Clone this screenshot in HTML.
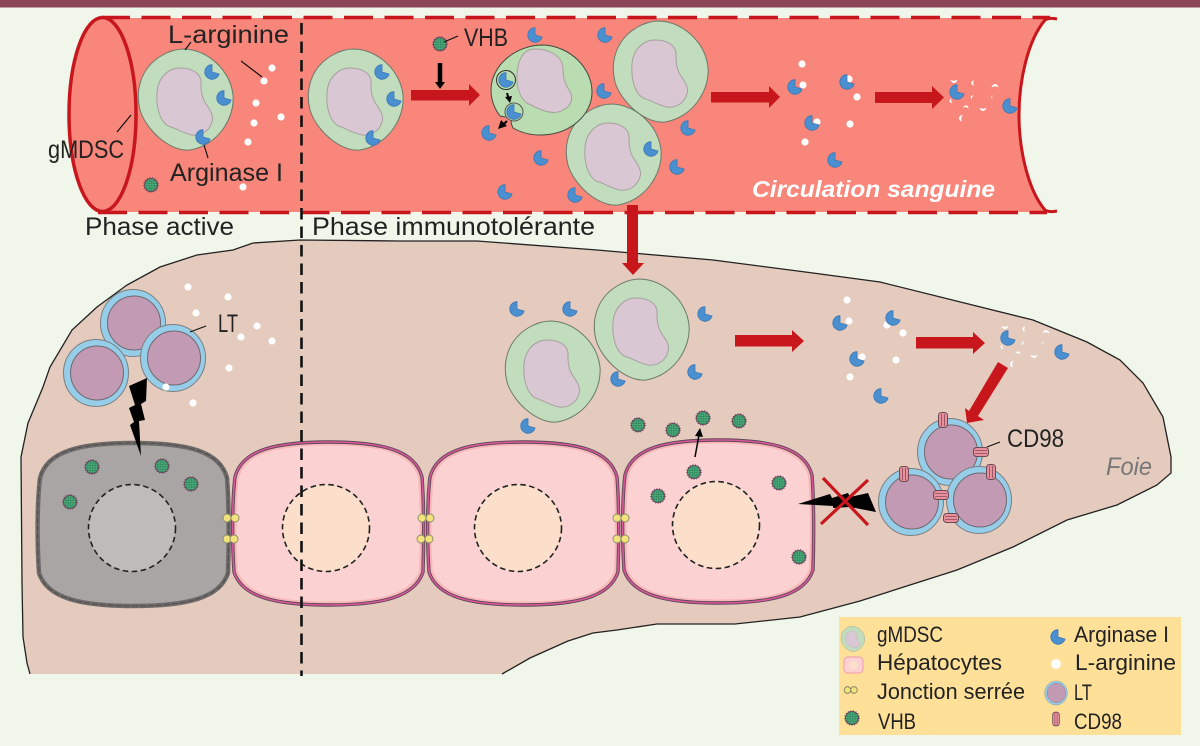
<!DOCTYPE html>
<html><head><meta charset="utf-8"><style>
html,body{margin:0;padding:0;background:#f0f6e9}
svg{display:block}
text{font-family:"Liberation Sans",sans-serif;fill:#222}
</style></head><body>
<svg width="1200" height="746" viewBox="0 0 1200 746" xmlns="http://www.w3.org/2000/svg">
<defs>
<pattern id="sp" width="2.4" height="2.4" patternUnits="userSpaceOnUse"><rect width="2.4" height="2.4" fill="#3f9f6f"/><circle cx=".7" cy=".8" r=".5" fill="#1f6a48"/><circle cx="1.9" cy="1.9" r=".35" fill="#7fc79c"/></pattern>
<g id="v"><circle r="7" fill="#5e4a58" stroke="#6a4a60" stroke-width="1.6" stroke-dasharray="1 1.6"/><circle r="6" fill="url(#sp)"/></g>
<g id="p"><path d="M0,0 L0,-7.3 A7.3,7.3 0 1 0 7.1,2 Z" fill="#4a8fd0" stroke="#3b78b4" stroke-width=".8"/></g>
<g id="c"><path d="M-2,-51 C22,-50 44,-30 47,-5 C49,20 30,46 4,50 C-16,52 -40,30 -46,10 C-51,-10 -45,-32 -25,-44 C-17,-49 -9,-51 -2,-51Z" fill="#c2dcbe" stroke="#6b7a6b" stroke-width="1"/><path d="M-6,-32 C4,-32 16,-28 15,-16 C15,-8 16,-2 20,4 C24,10 28,15 26,22 C23,32 14,36 6,35 C-4,33 -10,28 -18,26 C-27,20 -30,6 -29,-8 C-28,-22 -18,-32 -6,-32Z" fill="#d9c8d4" stroke="#a6a09e" stroke-width="1"/></g>
<path id="hs" d="M96.5,0 C150,0 183,8 190,35 C192,60 192,100 191,130 C183,155 150,163 96.5,163 C43,163 10,155 2,130 C0,100 0,60 3,35 C10,8 43,0 96.5,0Z"/>
<g id="h"><use href="#hs" fill="#fbd1d2"/><use href="#hs" fill="none" stroke="#f8a9ae" stroke-width="3" stroke-opacity=".65" transform="translate(2.4 2) scale(.975)"/><use href="#hs" fill="none" stroke="#5b4a55" stroke-width="3.4"/><use href="#hs" fill="none" stroke="#d9569a" stroke-width="1.6"/></g>
<g id="t"><ellipse rx="32.5" ry="33.5" fill="#96cde8" stroke="#7a7f80" stroke-width="1"/><ellipse cx="1" cy="0" rx="26.5" ry="27" fill="#c39ab3" stroke="#6f6a70" stroke-width="1"/></g>
<g id="m"><rect x="-4.5" y="-7.5" width="9" height="15" rx="3" fill="#e8909c" stroke="#6a4a55" stroke-width="1"/><path d="M-1.5,-6V6M1.5,-6V6" stroke="#8a4a5a" stroke-width=".8"/></g>
<g id="d"><circle r="3.6" fill="#fff"/></g>
<path id="f" d="M-3.5,-1.5 Q0,1 3.5,-1.5 Q2.5,2 0,2 Q-2.500,2 -3.5,-1.5Z" fill="#fff"/>
<g id="j"><circle r="4" fill="#f3e37c" stroke="#8b8a6a" stroke-width=".9"/></g>
</defs>

<rect width="1200" height="746" fill="#f0f6e9"/>
<rect width="1200" height="7.5" fill="#8b4557"/>

<!-- vessel -->
<path d="M103,18 H1046 C1028,40 1018,80 1018,115 C1018,150 1028,190 1046,212 H103 Z" fill="#f8867a"/>
<path d="M101,17.5 H1050" stroke="#c8161d" stroke-width="3.4" stroke-dasharray="29 11.5" fill="none"/>
<path d="M98,212.5 H1047" stroke="#c8161d" stroke-width="3.4" stroke-dasharray="29 11.5" fill="none"/>
<ellipse cx="102.5" cy="114.5" rx="33.5" ry="97" fill="#f8867a" stroke="#c8161d" stroke-width="3.5"/>
<path d="M1057,19 C1052,18 1048,18 1045,20 C1028,40 1019,80 1019,115 C1019,150 1028,190 1045,210 C1048,212 1052,212 1057,211" fill="none" stroke="#c8161d" stroke-width="3"/>

<!-- liver -->
<path d="M233,250 L197,255 L160,267 L127,285 L97,307 L72,330 L50,367 L43,387 L28,423 L21,457 L22,583 L23,637 L27,663 L30,674 H502 L530,658 L568,641 L593,633 L617,630 L657,624 H735 L800,617 L860,601 L957,570 L1013,547 L1067,520 L1117,505 L1157,485 L1171,473 L1171,457 L1163,417 L1143,383 L1120,360 L1087,342 L1033,320 L880,282 L813,273 L713,260 L597,250 L477,241 L400,241 L300,240 L253,243 Z" fill="#e5cbbd"/>
<path d="M30,674 L27,663 L23,637 L22,583 L21,457 L28,423 L43,387 L50,367 L72,330 L97,307 L127,285 L160,267 L197,255 L233,250 L253,243 L300,240 L400,241 L477,241 L597,250 L713,260 L813,273 L880,282 L1033,320 L1087,342 L1120,360 L1143,383 L1163,417 L1171,457 L1171,473 L1157,485 L1117,505 L1067,520 L1013,547 L957,570 L860,601 L800,617 L735,624 H657 L617,630 L593,633 L568,641 L530,658 L502,674" fill="none" stroke="#222" stroke-width="1.3"/>

<!-- hepatocytes -->
<g transform="translate(37 443)"><use href="#hs" fill="#a9a5a4"/><use href="#hs" fill="none" stroke="#6e6a6a" stroke-width="4.5"/><use href="#hs" fill="none" stroke="#4f4c4c" stroke-width="1" stroke-dasharray="6 2"/></g>
<use href="#h" x="232" y="442"/>
<use href="#h" x="427" y="442"/>
<use href="#h" x="622" y="440"/>
<g stroke="#222" stroke-width="1.6" stroke-dasharray="5.5 3.5">
<circle cx="132" cy="528" r="43.5" fill="#bfbbba"/>
<circle cx="326" cy="528" r="43.5" fill="#fbdfcb"/>
<circle cx="518" cy="528" r="43.5" fill="#fbdfcb"/>
<circle cx="716" cy="525" r="43.5" fill="#fbdfcb"/>
</g>
<use href="#j" x="227" y="518"/><use href="#j" x="235" y="518"/><use href="#j" x="227" y="539"/><use href="#j" x="234" y="539"/>
<use href="#j" x="422" y="518"/><use href="#j" x="430" y="518"/><use href="#j" x="421" y="539"/><use href="#j" x="429" y="539"/>
<use href="#j" x="617" y="518"/><use href="#j" x="625" y="518"/><use href="#j" x="617" y="539"/><use href="#j" x="625" y="539"/>

<!-- vertical dash -->
<path d="M301.5,23 V676" stroke="#111" stroke-width="2.6" stroke-dasharray="11.5 7" fill="none"/>

<!-- gMDSC -->
<use href="#c" x="186" y="100"/><use href="#c" x="356" y="100"/><use href="#c" x="661" y="72"/><use href="#c" x="614" y="155"/>
<use href="#c" x="553" y="372"/><use href="#c" x="642" y="330"/>

<!-- infected cell -->
<path d="M543,45 C570,46 592,68 592,92 C592,115 570,135 540,135 C530,135 520,132 513,128 L511,123 C513,117 508,114 505,117 L500,116 C494,108 491,100 491,90 C491,66 515,45 543,45Z" fill="#b9dcb0" stroke="#3f4a3f" stroke-width="1"/>
<path d="M535,49 C548,49 562,55 563,68 C563,78 565,84 569,90 C574,97 572,106 563,110 C553,116 540,110 527,103 C520,98 517,88 517,77 C517,62 522,49 535,49Z" fill="#d9c8d4" stroke="#a6a09e" stroke-width="1"/>
<circle cx="506" cy="80" r="9.5" fill="#b9dcb0" stroke="#333" stroke-width="1"/>
<circle cx="514" cy="112" r="9" fill="#b9dcb0" stroke="#555" stroke-width="1"/>
<use href="#p" x="506" y="80"/><use href="#p" x="514" y="112"/>

<!-- dots -->
<g>
<use href="#d" x="272" y="68"/><use href="#d" x="264" y="81"/><use href="#d" x="256" y="103"/><use href="#d" x="281" y="117"/><use href="#d" x="254" y="123"/><use href="#d" x="248" y="142"/><use href="#d" x="243" y="187"/>
<use href="#d" x="802" y="64"/><use href="#d" x="803" y="85"/><use href="#d" x="857" y="97"/><use href="#d" x="850" y="124"/><use href="#d" x="805" y="142"/><use href="#d" x="817" y="122"/><use href="#d" x="849" y="79"/>
<use href="#d" x="188" y="287"/><use href="#d" x="228" y="297"/><use href="#d" x="196" y="313"/><use href="#d" x="257" y="326"/><use href="#d" x="241" y="337"/><use href="#d" x="272" y="341"/><use href="#d" x="229" y="368"/><use href="#d" x="193" y="403"/>
<use href="#d" x="847" y="300"/><use href="#d" x="849" y="321"/><use href="#d" x="887" y="325"/><use href="#d" x="903" y="333"/><use href="#d" x="896" y="360"/><use href="#d" x="862" y="357"/><use href="#d" x="850" y="377"/>
</g>
<g id="frags">
<use href="#f" x="954" y="81"/><use href="#f" transform="translate(973 83) rotate(90) scale(.8)"/><use href="#f" transform="translate(995 86) rotate(180)"/><use href="#f" transform="translate(972 97) rotate(120) scale(.6)"/><use href="#f" transform="translate(992 97) rotate(90) scale(.6)" opacity=".5"/><use href="#f" transform="translate(951 101) rotate(80) scale(.7)"/><use href="#f" transform="translate(966 107) rotate(190) scale(.8)"/><use href="#f" x="983" y="109"/><use href="#f" transform="translate(961 118) rotate(100)"/>
<use href="#f" x="1005" y="327"/><use href="#f" transform="translate(1024 329) rotate(90) scale(.8)"/><use href="#f" transform="translate(1046 332) rotate(180)"/><use href="#f" transform="translate(1023 343) rotate(120) scale(.6)"/><use href="#f" transform="translate(1043 343) rotate(90) scale(.6)" opacity=".6"/><use href="#f" transform="translate(1002 347) rotate(80) scale(.7)"/><use href="#f" transform="translate(1018 353) rotate(190) scale(.8)"/><use href="#f" x="1034" y="356"/><use href="#f" transform="translate(1012 364) rotate(100)"/>
</g>
<g>
<use href="#p" x="212" y="72"/><use href="#p" x="224" y="98"/><use href="#p" x="203" y="137"/>
<use href="#p" x="382" y="72"/><use href="#p" x="394" y="99"/><use href="#p" x="373" y="138"/>
<use href="#p" x="535" y="35"/><use href="#p" x="605" y="35"/><use href="#p" x="604" y="91"/><use href="#p" x="651" y="149"/><use href="#p" x="688" y="128"/><use href="#p" x="677" y="167"/><use href="#p" x="541" y="158"/><use href="#p" x="505" y="192"/><use href="#p" x="575" y="195"/><use href="#p" x="489" y="133"/>
<use href="#p" x="795" y="87"/><use href="#p" x="847" y="82"/><use href="#p" x="812" y="123"/><use href="#p" x="835" y="160"/><use href="#p" x="957" y="92"/><use href="#p" x="1010" y="106"/>
<use href="#p" x="517" y="309"/><use href="#p" x="570" y="309"/><use href="#p" x="705" y="314"/><use href="#p" x="618" y="379"/><use href="#p" x="695" y="372"/><use href="#p" x="528" y="426"/>
<use href="#p" x="840" y="323"/><use href="#p" x="893" y="318"/><use href="#p" x="857" y="359"/><use href="#p" x="881" y="396"/><use href="#p" x="1008" y="338"/><use href="#p" x="1062" y="352"/>
</g>

<!-- virus -->
<use href="#v" x="151" y="185"/><use href="#v" x="440" y="44"/>
<use href="#v" x="92" y="467"/><use href="#v" x="162" y="466"/><use href="#v" x="191" y="484"/><use href="#v" x="70" y="502"/>
<use href="#v" x="638" y="425"/><use href="#v" x="673" y="430"/><use href="#v" x="703" y="418"/><use href="#v" x="739" y="421"/><use href="#v" x="694" y="472"/><use href="#v" x="658" y="496"/><use href="#v" x="779" y="483"/><use href="#v" x="799" y="557"/>

<!-- LT -->
<use href="#t" x="133" y="323"/><use href="#t" x="96" y="373"/><use href="#t" x="173" y="358"/>
<use href="#d" x="166" y="387"/>
<use href="#t" x="950" y="452"/><use href="#t" x="911" y="502"/><use href="#t" x="979" y="500"/>
<use href="#m" x="943" y="420"/><use href="#m" x="904" y="474"/><use href="#m" x="991" y="472"/>
<use href="#m" transform="translate(981 452) rotate(90)"/><use href="#m" transform="translate(941 495) rotate(90)"/><use href="#m" transform="translate(951 518) rotate(90)"/>

<!-- red arrows -->
<g fill="#c8161d">
<path d="M411,90 H469 V84 L480,95 L469,106 V100.5 H411Z"/>
<path d="M711,92 H769 V86 L780,97 L769,108 V102.5 H711Z"/>
<path d="M875,92 H932 V86 L944,97.5 L932,109 V103 H875Z"/>
<path d="M627,205 H638 V263 H644 L633,275 L622,263 H627Z"/>
<path d="M735,335 H792 V330 L804,341 L792,352 V346.500 H735Z"/>
<path d="M916,337 H973 V332 L985,343 L973,354 V348.500 H916Z"/>
<path d="M998,362 L1008,368 L978,416 L984,420 L967,423 L965,408 L969,411Z"/>
</g>

<!-- black -->
<path d="M147,378 L129,386 L135,405 L129,408 L134,422 L130,425 L141,456 L139,421 L145,420 L141,404 L146,401Z" fill="#000"/>
<path d="M798,504 L830,494 L832,498 L848,493 L850,497 L868,493 L876,512 L850,507 L833,508 L833,506Z" fill="#000"/>
<path d="M823,478 L868,525 M868,480 L821,524" stroke="#c8161d" stroke-width="3.2" fill="none"/>
<path d="M440,63 V83" stroke="#000" stroke-width="4.5"/><path d="M435,82 H445 L440,89Z" fill="#000"/>
<path d="M507,93 L508.500,98" stroke="#000" stroke-width="2"/><path d="M505,97 L512,96 L510,103Z" fill="#000"/>
<path d="M507,121 L503,125" stroke="#000" stroke-width="2"/><path d="M501,120 L507,126 L498,129Z" fill="#000"/>
<path d="M695,457 L699,435" stroke="#000" stroke-width="1.5"/><path d="M695,436 L703,437 L700,428Z" fill="#000"/>

<!-- leaders -->
<g stroke="#111" stroke-width="1.2" fill="none">
<path d="M185,50 L191,42"/><path d="M241,61 L262,77"/><path d="M117,132 L131,115"/><path d="M204,145 L208,158"/><path d="M444,42 L458,36"/><path d="M190,332 L206,326"/><path d="M987,447 L1000,442"/>
</g>

<!-- labels -->
<g font-size="25">
<text x="168" y="43" textLength="121" lengthAdjust="spacingAndGlyphs">L-arginine</text>
<text x="48" y="158" textLength="76" lengthAdjust="spacingAndGlyphs">gMDSC</text>
<text x="170" y="181" textLength="113" lengthAdjust="spacingAndGlyphs">Arginase I</text>
<text x="85" y="235" textLength="149" lengthAdjust="spacingAndGlyphs">Phase active</text>
<text x="464" y="46" textLength="44" lengthAdjust="spacingAndGlyphs">VHB</text>
<text x="312" y="235" textLength="283" lengthAdjust="spacingAndGlyphs">Phase immunotolérante</text>
<text x="218" y="332" textLength="20" lengthAdjust="spacingAndGlyphs">LT</text>
<text x="1007" y="447" textLength="57" lengthAdjust="spacingAndGlyphs">CD98</text>
</g>
<text x="752" y="197" font-size="23" font-weight="bold" font-style="italic" style="fill:#fff" textLength="243" lengthAdjust="spacingAndGlyphs">Circulation sanguine</text>
<text x="1106" y="475" font-size="25" font-style="italic" style="fill:#777" textLength="46" lengthAdjust="spacingAndGlyphs">Foie</text>

<!-- legend -->
<rect x="839" y="617" width="342" height="118" fill="#fee099"/>
<use href="#c" transform="translate(853 639) scale(.25)"/>
<rect x="844" y="657" width="19" height="16" rx="4" fill="#fbd1d2" stroke="#f2a7ad" stroke-width="1.200"/><circle cx="853.500" cy="665" r="4.500" fill="#fbdfcb"/>
<circle cx="847.500" cy="690" r="3.300" fill="#f3e37c" stroke="#77755c" stroke-width=".8"/><circle cx="854" cy="690" r="3.300" fill="#f3e37c" stroke="#77755c" stroke-width=".8"/>
<use href="#v" x="852" y="718"/>
<use href="#p" x="1058" y="637"/>
<circle cx="1056" cy="664" r="5" fill="#fff"/>
<use href="#t" transform="translate(1056 693) scale(.35 .36)"/>
<use href="#m" transform="translate(1056 719) scale(.75 .9)"/>
<g font-size="22">
<text x="877" y="642" textLength="66" lengthAdjust="spacingAndGlyphs">gMDSC</text>
<text x="877" y="670" textLength="125" lengthAdjust="spacingAndGlyphs">Hépatocytes</text>
<text x="877" y="699" textLength="148" lengthAdjust="spacingAndGlyphs">Jonction serrée</text>
<text x="878" y="729" textLength="38" lengthAdjust="spacingAndGlyphs">VHB</text>
<text x="1074" y="642" textLength="95" lengthAdjust="spacingAndGlyphs">Arginase I</text>
<text x="1075" y="670" textLength="101" lengthAdjust="spacingAndGlyphs">L-arginine</text>
<text x="1074" y="700" textLength="18" lengthAdjust="spacingAndGlyphs">LT</text>
<text x="1074" y="729" textLength="48" lengthAdjust="spacingAndGlyphs">CD98</text>
</g>
</svg>
</body></html>
